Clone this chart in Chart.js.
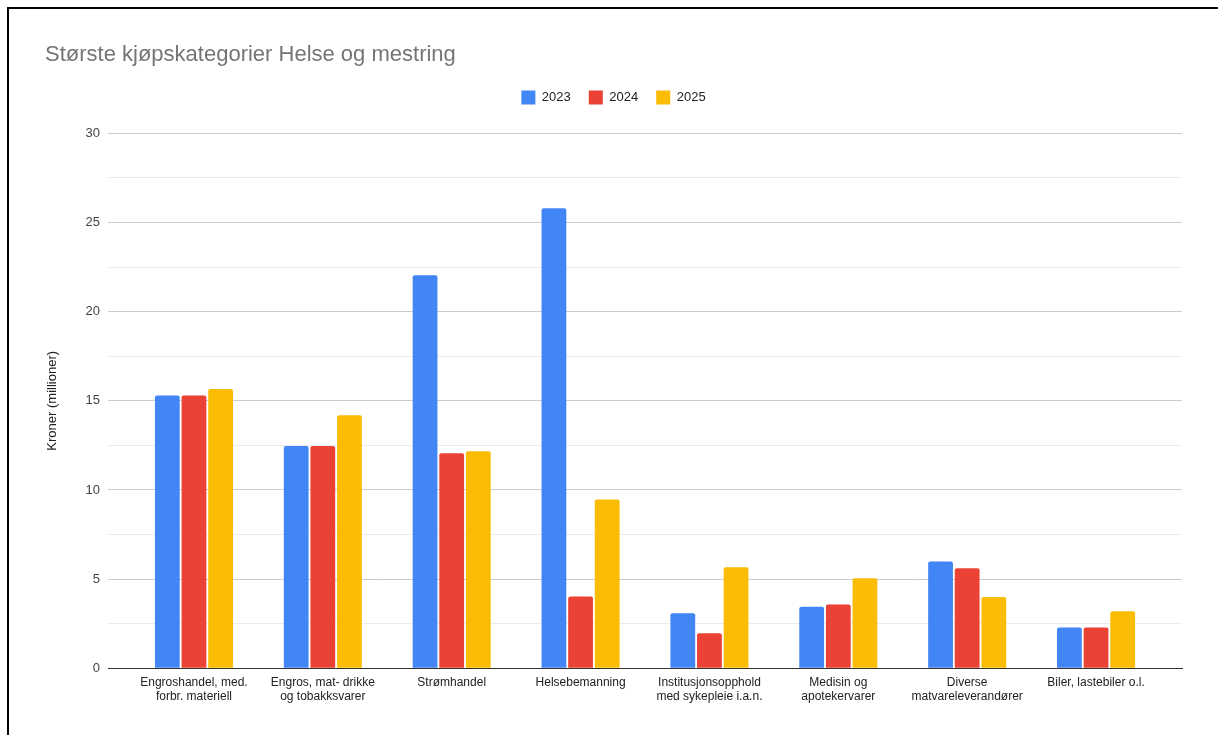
<!DOCTYPE html>
<html lang="no">
<head>
    <meta charset="UTF-8">
    <title>Største kjøpskategorier Helse og mestring</title>
    <style>
        body {
            margin: 0;
            background: #fff;
            font-family: Arial, "Liberation Sans", sans-serif;
        }
        #frame {
            position: absolute;
            left: 7px;
            top: 7px;
            width: 1209px;
            height: 726px;
            border-left: 2px solid #000;
            border-top: 2px solid #000;
        }
    </style>
</head>
<body>
    <div id="frame">
        <canvas id="kjopChart" width="1209" height="726"></canvas>
    </div>

    <script src="https://cdn.jsdelivr.net/npm/chart.js"></script>
    <script>
        const categories = [
            ['Engroshandel, med.', 'forbr. materiell'],
            ['Engros, mat- drikke', 'og tobakksvarer'],
            'Strømhandel',
            'Helsebemanning',
            ['Institusjonsopphold', 'med sykepleie i.a.n.'],
            ['Medisin og', 'apotekervarer'],
            ['Diverse', 'matvareleverandører'],
            'Biler, lastebiler o.l.'
        ];
        const values2023 = [15.3, 12.47, 22.04, 25.8, 3.08, 3.45, 5.98, 2.28];
        const values2024 = [15.3, 12.47, 12.06, 4.02, 1.96, 3.57, 5.61, 2.28];
        const values2025 = [15.66, 14.19, 12.17, 9.46, 5.66, 5.05, 4.0, 3.2];
        const yTicks = [0, 5, 10, 15, 20, 25, 30];

        Chart.defaults.font.family = 'Arial, "Liberation Sans", sans-serif';
        Chart.defaults.animation = false;

        // x is a linear axis so the groups can sit inside the gridlines like in Google Sheets
        const bar = (label, data, color) => ({
            label: label,
            data: data.map((v, i) => ({ x: i, y: v })),
            backgroundColor: color,
            borderColor: color,
            borderWidth: 0,
            borderRadius: 2,
            borderSkipped: 'bottom',
            barPercentage: 0.93,
            categoryPercentage: 0.62
        });

        // extra room under the legend
        const legendGap = {
            id: 'legendGap',
            beforeInit(chart) {
                const fit = chart.legend.fit;
                chart.legend.fit = function () {
                    fit.bind(chart.legend)();
                    this.height += 19;
                };
            }
        };

        new Chart(document.getElementById('kjopChart'), {
            type: 'bar',
            data: {
                datasets: [
                    bar('2023', values2023, '#4285F4'),
                    bar('2024', values2024, '#EA4335'),
                    bar('2025', values2025, '#FBBC04')
                ]
            },
            plugins: [legendGap],
            options: {
                responsive: false,
                layout: { padding: { top: 20, left: 36, right: 36, bottom: 24 } },
                plugins: {
                    title: {
                        display: true,
                        text: 'Største kjøpskategorier Helse og mestring',
                        align: 'start',
                        color: '#757575',
                        font: { size: 22, weight: 'normal' },
                        padding: { top: 13, bottom: 4 }
                    },
                    legend: {
                        labels: {
                            boxWidth: 14,
                            boxHeight: 14,
                            padding: 18,
                            color: '#222',
                            font: { size: 13 }
                        }
                    },
                    tooltip: { enabled: false }
                },
                scales: {
                    x: {
                        type: 'linear',
                        offset: false,
                        min: -0.667,
                        max: 7.667,
                        afterBuildTicks: (scale) => {
                            scale.ticks = categories.map((c, i) => ({ value: i }));
                        },
                        grid: { display: false, drawTicks: false },
                        border: { color: '#333', width: 1 },
                        ticks: {
                            color: '#222',
                            font: { size: 12 },
                            maxRotation: 0,
                            autoSkip: false,
                            padding: 7,
                            callback: (v) => categories[v]
                        }
                    },
                    y: {
                        min: 0,
                        max: 30,
                        afterFit: (scale) => { scale.width = 63; },
                        afterBuildTicks: (scale) => {
                            const t = [];
                            for (let v = 0; v <= 30; v += 2.5) t.push({ value: v });
                            scale.ticks = t;
                        },
                        title: {
                            display: true,
                            text: 'Kroner (millioner)',
                            color: '#222',
                            font: { size: 13 },
                            padding: 0
                        },
                        border: { display: false },
                        grid: {
                            drawTicks: false,
                            color: (ctx) => {
                                const v = ctx.tick ? ctx.tick.value : 0;
                                if (v === 0) return '#333';
                                return yTicks.includes(v) ? '#cccccc' : '#ebebeb';
                            },
                            lineWidth: 1
                        },
                        ticks: {
                            color: '#444',
                            font: { size: 13 },
                            padding: 8,
                            callback: (v) => yTicks.includes(v) ? v : ''
                        }
                    }
                }
            }
        });
    </script>
</body>
</html>
